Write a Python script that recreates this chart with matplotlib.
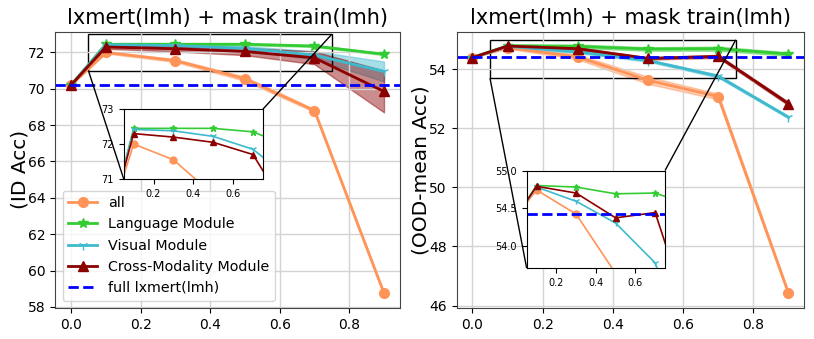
import matplotlib
matplotlib.use("Agg")
import matplotlib.pyplot as plt
import numpy as np
from mpl_toolkits.axes_grid1.inset_locator import mark_inset

# ---- data ----
ratios = [0.0, 0.1, 0.3, 0.5, 0.7, 0.9]

id_all = [70.2, 72.0, 71.55, 70.55, 68.8, 58.75]
id_lang = [70.2, 72.45, 72.45, 72.45, 72.35, 71.9]
id_vis = [70.2, 72.42, 72.38, 72.22, 71.85, 70.95]
id_cross = [70.2, 72.3, 72.2, 72.05, 71.7, 69.85]
id_all_std = [0.0, 0.06, 0.08, 0.12, 0.08, 0.06]
id_lang_std = [0.0, 0.05, 0.05, 0.05, 0.05, 0.05]
id_vis_std = [0.0, 0.05, 0.06, 0.12, 0.22, 0.55]
id_cross_std = [0.0, 0.1, 0.15, 0.2, 0.35, 1.15]
id_full = 70.2

ood_all = [54.4, 54.74, 54.42, 53.63, 53.08, 46.42]
ood_lang = [54.4, 54.8, 54.78, 54.69, 54.7, 54.52]
ood_vis = [54.4, 54.78, 54.59, 54.3, 53.77, 52.38]
ood_cross = [54.4, 54.79, 54.7, 54.37, 54.44, 52.84]
ood_all_std = [0.0, 0.04, 0.08, 0.12, 0.1, 0.06]
ood_lang_std = [0.0, 0.04, 0.06, 0.06, 0.07, 0.06]
ood_vis_std = [0.0, 0.03, 0.04, 0.04, 0.05, 0.04]
ood_cross_std = [0.0, 0.03, 0.04, 0.04, 0.05, 0.06]
ood_full = 54.42

labels = ["all", "Language Module", "Visual Module", "Cross-Modality Module"]
colors = ["#FF9459", "#33CC33", "#3DBACE", "#8B0000"]
markers = ["o", "*", "1", "^"]

fig = plt.figure(figsize=(8.14, 3.39), dpi=100)
ax1 = fig.add_axes([0.068, 0.092, 0.423, 0.814])
ax2 = fig.add_axes([0.561, 0.09, 0.427, 0.816])
ins1 = fig.add_axes([0.152, 0.472, 0.171, 0.206])
ins2 = fig.add_axes([0.647, 0.209, 0.170, 0.288])


def draw(ax, ins, series, stds, full, ylabel, ylim, inylim, inyticks):
    x = np.array(ratios)
    for ys, sd, lab, c, m in zip(series, stds, labels, colors, markers):
        ys = np.array(ys)
        sd = np.array(sd)
        ax.plot(x, ys, color=c, marker=m, lw=2, ms=7, label=lab)
        ax.fill_between(x, ys - sd, ys + sd, color=c, alpha=0.45)
        ins.plot(x, ys, color=c, marker=m, lw=1.2, ms=5)
    ax.axhline(full, color="blue", ls="--", lw=2, label="full lxmert(lmh)")
    ins.axhline(full, color="blue", ls="--", lw=2)
    ax.set_title("lxmert(lmh) + mask train(lmh)", fontsize=15)
    ax.set_ylabel(ylabel, fontsize=14.5, labelpad=-1)
    ax.set_ylim(*ylim)
    ax.grid(True, color="#d3d3d3", lw=1)
    ax.tick_params(labelsize=10)
    for s in ax.spines.values():
        s.set_color("#444444")
    ins.set_xlim(0.05, 0.75)
    ins.set_ylim(*inylim)
    ins.set_xticks([0.2, 0.4, 0.6])
    ins.set_yticks(inyticks)
    ins.tick_params(labelsize=7)
    mark_inset(ax, ins, loc1=3, loc2=1, fc="none", ec="black", lw=1)


draw(ax1, ins1, [id_all, id_lang, id_vis, id_cross],
     [id_all_std, id_lang_std, id_vis_std, id_cross_std],
     id_full, "(ID Acc)", (57.95, 73.13), (71, 73), [71, 72, 73])
draw(ax2, ins2, [ood_all, ood_lang, ood_vis, ood_cross],
     [ood_all_std, ood_lang_std, ood_vis_std, ood_cross_std],
     ood_full, "(OOD-mean Acc)", (45.9, 55.27), (53.7, 55.0), [54.0, 54.5, 55.0])

ax1.legend(loc="lower left", fontsize=10.3)

fig.savefig("out.png", dpi=100)
